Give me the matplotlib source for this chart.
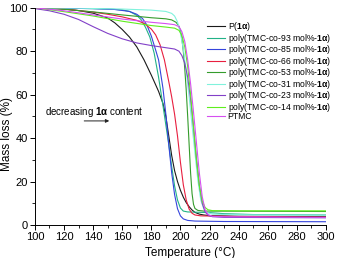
import matplotlib
matplotlib.use('Agg')
import matplotlib.pyplot as plt
from matplotlib.ticker import MultipleLocator

plt.rcParams['font.family'] = ['Liberation Sans', 'DejaVu Sans']
plt.rcParams['mathtext.fontset'] = 'custom'
plt.rcParams['mathtext.rm'] = 'Liberation Sans'
plt.rcParams['mathtext.bf'] = 'Liberation Sans:bold'
plt.rcParams['mathtext.it'] = 'Liberation Sans:italic'

# TGA curves (temperature in C, mass in %)
t_p1a = [100, 110, 120, 130, 140, 150, 155, 160, 165, 170, 175, 180, 185, 188, 190, 192, 194, 196, 198, 200,
         202, 204, 206, 208, 210, 213, 216, 220, 240, 270, 300]
m_p1a = [100, 99.8, 99.4, 98.7, 97.5, 95.3, 93.0, 90.0, 86.5, 82.0, 76.0, 69.0, 61.5, 56.0, 50.0, 41.0, 32.0,
         25.0, 20.0, 16.0, 12.8, 10.3, 8.4, 6.9, 5.8, 5.0, 4.6, 4.3, 4.0, 3.9, 3.8]

t_93 = [100, 120, 140, 150, 160, 165, 170, 173, 176, 179, 182, 185, 188, 190, 192, 194, 196, 198, 200, 202,
        205, 210, 220, 230, 250, 300]
m_93 = [100, 99.8, 99.6, 99.4, 99.0, 98.3, 96.5, 94.5, 91, 86.5, 79, 68, 55, 46, 37, 27, 18, 11.5, 7.8, 6.4,
        6.0, 5.9, 5.7, 5.2, 4.8, 4.6]

t_85 = [100, 120, 140, 155, 165, 170, 174, 177, 180, 183, 185, 188, 190, 192, 194, 196, 198, 200, 202, 205,
        210, 230, 300]
m_85 = [100, 99.8, 99.6, 99.2, 98.3, 97, 95, 92, 87, 80.5, 76, 63, 51, 37, 24, 14, 7.5, 4.2, 2.8, 2.1,
        1.8, 1.6, 1.5]

t_66 = [100, 120, 140, 150, 160, 170, 175, 180, 183, 186, 189, 192, 194, 196, 198, 200, 202, 204, 206, 208,
        210, 214, 230, 300]
m_66 = [100, 99.4, 98.0, 97.0, 95.8, 94.2, 92.8, 90.2, 87.5, 83, 76, 66, 59, 51, 41, 29, 18.5, 11.5, 7.3, 5.4,
        4.6, 4.2, 4.0, 3.6]

t_53 = [100, 120, 140, 160, 180, 190, 194, 197, 199, 200, 201, 202, 203, 204, 205, 206, 207, 208, 209, 210,
        212, 216, 300]
m_53 = [100, 99.3, 98.1, 96.7, 95.4, 94.9, 94.4, 93.3, 91.5, 89.5, 86, 80, 72, 62, 50, 37, 24, 14.5, 9.5, 7.6,
        6.7, 6.4, 6.2]

t_31 = [100, 130, 160, 180, 190, 194, 196, 198, 200, 202, 204, 206, 208, 210, 212, 214, 216, 218, 222, 240, 300]
m_31 = [100, 99.8, 99.4, 98.9, 98.3, 97.4, 96.2, 93.5, 88.5, 81, 71, 59, 46, 33, 20.5, 11.5, 7.5, 5.8, 5.0,
        4.7, 4.5]

t_23 = [100, 110, 120, 130, 140, 150, 160, 170, 180, 190, 196, 199, 201, 203, 205, 207, 209, 211, 213, 215,
        217, 219, 222, 230, 300]
m_23 = [99.6, 98.6, 97.0, 94.6, 91.3, 88.2, 85.7, 83.8, 82.6, 81.6, 81.0, 80.0, 78.0, 74.5, 68, 58, 45, 31,
        18.5, 10, 6, 4.5, 3.8, 3.5, 3.3]

t_14 = [100, 120, 140, 160, 180, 190, 196, 199, 201, 203, 205, 207, 209, 211, 213, 215, 217, 219, 222, 240, 300]
m_14 = [100, 98.2, 96.2, 93.8, 91.8, 91.1, 90.6, 89.6, 87.3, 82, 73, 60, 45, 30, 18, 11, 8, 7, 6.6, 6.5, 6.5]

t_ptmc = [100, 120, 140, 160, 180, 190, 196, 199, 201, 203, 205, 207, 209, 211, 213, 215, 217, 219, 222, 230, 300]
m_ptmc = [100, 98.6, 96.7, 94.8, 93.3, 92.7, 92.2, 91.3, 89, 84.5, 76, 65, 52, 38, 24, 13, 7, 4.8, 4.0, 3.8, 3.5]

tag = r'$\mathbf{1\alpha}$'
series = [
    (t_p1a, m_p1a, '#1a1a1a', 'P(' + tag + ')'),
    (t_93, m_93, '#22b287', 'poly(TMC-co-93 mol%-' + tag + ')'),
    (t_85, m_85, '#3544dc', 'poly(TMC-co-85 mol%-' + tag + ')'),
    (t_66, m_66, '#e81f3f', 'poly(TMC-co-66 mol%-' + tag + ')'),
    (t_53, m_53, '#359c2c', 'poly(TMC-co-53 mol%-' + tag + ')'),
    (t_31, m_31, '#80f2dc', 'poly(TMC-co-31 mol%-' + tag + ')'),
    (t_23, m_23, '#8240c8', 'poly(TMC-co-23 mol%-' + tag + ')'),
    (t_14, m_14, '#5fee1e', 'poly(TMC-co-14 mol%-' + tag + ')'),
    (t_ptmc, m_ptmc, '#d64ff0', 'PTMC'),
]

fig = plt.figure(figsize=(3.42, 2.58), dpi=100)
ax = fig.add_axes([0.102, 0.128, 0.851, 0.842])

for t, m, c, lab in series:
    ax.plot(t, m, color=c, lw=0.8, label=lab)

ax.set_xlim(100, 300)
ax.set_ylim(0, 100)
ax.xaxis.set_major_locator(MultipleLocator(20))
ax.xaxis.set_minor_locator(MultipleLocator(10))
ax.yaxis.set_major_locator(MultipleLocator(20))
ax.yaxis.set_minor_locator(MultipleLocator(10))
ax.tick_params(which='major', direction='out', length=3.5, width=0.7, labelsize=8, pad=1.5)
ax.tick_params(which='minor', direction='out', length=2, width=0.6)
for s in ['top', 'right']:
    ax.spines[s].set_visible(False)
for s in ['left', 'bottom']:
    ax.spines[s].set_linewidth(0.7)

ax.set_xlabel('Temperature (°C)', fontsize=8.5)
ax.set_ylabel('Mass loss (%)', fontsize=8.5)
ax.xaxis.set_label_coords(0.535, -0.10)
ax.yaxis.set_label_coords(-0.075, 0.42)

ax.text(141, 52.1, 'decreasing ' + tag + ' content', fontsize=7, ha='center', va='center')
ax.annotate('', xy=(153, 47.9), xytext=(132, 47.9),
            arrowprops=dict(arrowstyle='-|>', color='#222222', lw=0.7, mutation_scale=5))

ax.legend(loc='upper left', bbox_to_anchor=(207 / 342, 1 - 20 / 258), bbox_transform=fig.transFigure,
          frameon=False, fontsize=6.2, handlelength=2.1, handletextpad=0.3, labelspacing=-0.17,
          borderpad=0, borderaxespad=0)

fig.savefig('out.png', dpi=100)
